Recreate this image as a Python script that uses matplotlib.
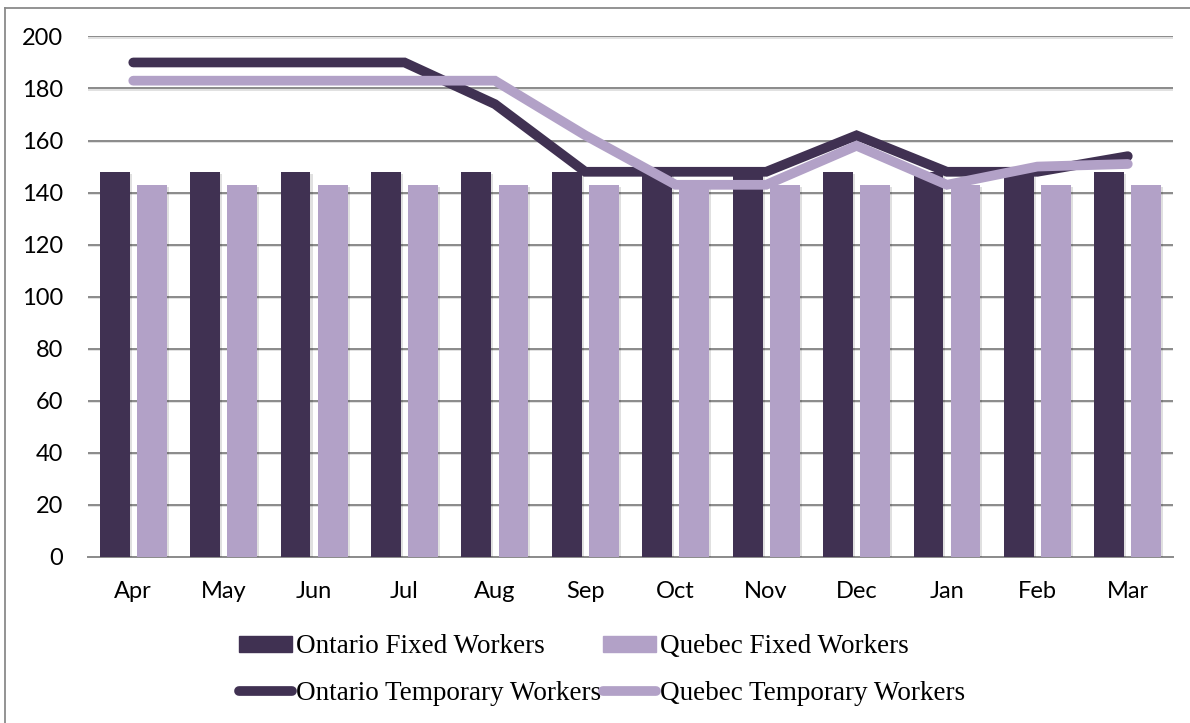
import numpy as np
import matplotlib.pyplot as plt
import matplotlib.patheffects as pe
from matplotlib.lines import Line2D
from matplotlib.patches import Patch

# data
months = ['Apr', 'May', 'Jun', 'Jul', 'Aug', 'Sep', 'Oct', 'Nov', 'Dec', 'Jan', 'Feb', 'Mar']
ontario_fixed = [148, 148, 148, 148, 148, 148, 148, 148, 148, 148, 148, 148]
quebec_fixed = [143, 143, 143, 143, 143, 143, 143, 143, 143, 143, 143, 143]
ontario_temp = [190, 190, 190, 190, 174, 148, 148, 148, 162, 148, 148, 154]
quebec_temp = [183, 183, 183, 183, 183, 162, 143, 143, 158, 143, 150, 151]

dark = '#403152'
light = '#b2a1c7'

fig = plt.figure(figsize=(11.9, 7.23), dpi=100)
ax = fig.add_axes([0.074, 0.2296, 0.9117, 0.72])

x = np.arange(len(months))
w = 0.33
shadow = [pe.SimplePatchShadow(offset=(1.5, -1.5), shadow_rgbFace='#000000', alpha=0.12), pe.Normal()]
b1 = ax.bar(x - 0.205, ontario_fixed, w, color=dark, zorder=3)
b2 = ax.bar(x + 0.205, quebec_fixed, w, color=light, zorder=3)
for b in list(b1) + list(b2):
    b.set_path_effects(shadow)

ax.plot(x, ontario_temp, color=dark, lw=7, solid_capstyle='round', solid_joinstyle='miter', zorder=4)
ax.plot(x, quebec_temp, color=light, lw=7, solid_capstyle='round', solid_joinstyle='miter', zorder=5)

ax.set_xlim(-0.5, len(months) - 0.5)
ax.set_ylim(0, 200)
ax.set_yticks(range(0, 201, 20))
ax.set_xticks(x)
ax.set_xticklabels(months)

# gridlines with a soft shadow
for y in range(20, 201, 20):
    ax.axhline(y, color='#8a8a8a', lw=1.4, zorder=1,
               path_effects=[pe.SimpleLineShadow(offset=(0.5, -1), alpha=0.12), pe.Normal()])

for s in ['top', 'right', 'left']:
    ax.spines[s].set_visible(False)
ax.spines['bottom'].set_color('#8a8a8a')
ax.spines['bottom'].set_linewidth(1.4)
ax.tick_params(axis='both', length=0, labelsize=17, colors='black')
ax.tick_params(axis='x', pad=17)
ax.tick_params(axis='y', pad=18)
for lab in ax.get_xticklabels() + ax.get_yticklabels():
    lab.set_family('Lato')

handles = [
    Patch(color=dark, label='Ontario Fixed Workers'),
    Line2D([0], [0], color=dark, lw=7, solid_capstyle='round', label='Ontario Temporary Workers'),
    Patch(color=light, label='Quebec Fixed Workers'),
    Line2D([0], [0], color=light, lw=7, solid_capstyle='round', label='Quebec Temporary Workers'),
]
fig.legend(handles=handles, loc='center', bbox_to_anchor=(0.506, 0.073), ncol=2,
           frameon=False, prop={'family': 'Liberation Serif', 'size': 19.5},
           handlelength=1.95, handleheight=0.55, handletextpad=0.15, columnspacing=0.1,
           labelspacing=0.8, borderpad=0)

# outer border (only top and left visible in the original crop)
fig.add_artist(Line2D([0.0046, 0.0046], [0.0, 0.9894], transform=fig.transFigure, color='#8a8a8a', lw=1.3))
fig.add_artist(Line2D([0.0046, 1.0], [0.9894, 0.9894], transform=fig.transFigure, color='#8a8a8a', lw=1.3))

fig.savefig('out.png', dpi=100)
